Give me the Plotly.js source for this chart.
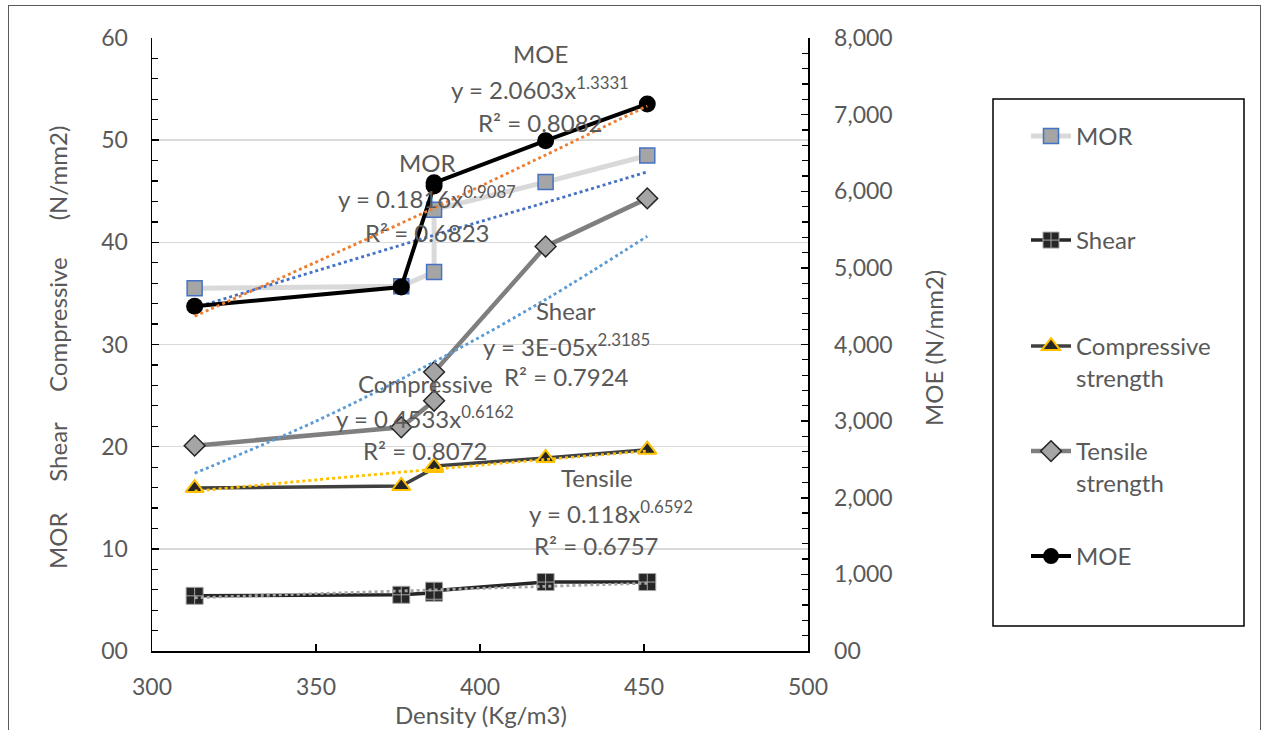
<!DOCTYPE html>
<html>
<head>
<meta charset="utf-8">
<script src="https://cdn.plot.ly/plotly-3.0.1.min.js"></script>
<style>
  html, body { margin: 0; padding: 0; background: #ffffff; overflow: hidden; }
  #chart { width: 1265px; height: 730px; position: absolute; left: 0; top: 0; }
  #frame { position: absolute; left: 8px; top: 5px; width: 1251px; height: 760px;
           border: 1.5px solid #595959; pointer-events: none; }
</style>
</head>
<body>
<div id="chart"></div>
<div id="frame"></div>
<script>
// ---- data ----
const density      = [313, 376, 386, 386, 420, 451];
const morValues    = [35.5, 35.7, 37.1, 43.2, 45.9, 48.5];
const shearValues  = [5.4, 5.5, 5.7, 5.9, 6.75, 6.75];
const compValues   = [15.95, 16.15, 17.9, 18.1, 18.9, 19.7];
const tensValues   = [20.1, 21.9, 24.5, 27.3, 39.6, 44.3];
const moeValues    = [4500, 4750, 6070, 6110, 6660, 7140];

// trendline curves (dotted)
const trendX        = [313, 350, 386, 420, 451];
const moeTrend      = [4370, 5075, 5781, 6473, 7114];
const morTrend      = [33.6, 37.2, 40.7, 43.9, 46.9];
const blueTrend     = [17.4, 22.5, 28.3, 34.4, 40.6];
const compTrend     = [15.64, 16.75, 17.79, 18.75, 19.58];
const grayTrend     = [5.21, 5.61, 5.98, 6.33, 6.63];

const leftTicks   = [0, 10, 20, 30, 40, 50, 60];
const leftLabels  = ['00', '10', '20', '30', '40', '50', '60'];
const rightTicks  = [0, 1000, 2000, 3000, 4000, 5000, 6000, 7000, 8000];
const rightLabels = ['00', '1,000', '2,000', '3,000', '4,000', '5,000', '6,000', '7,000', '8,000'];
const xTicks      = [300, 350, 400, 450, 500];

// ---- helpers for placing layout items in pixels ----
const PL = 152, PR = 808, PT = 38, PB = 651;
const px = v => (v - PL) / (PR - PL);
const py = v => (PB - v) / (PB - PT);

const FONT = 'Lato, "Open Sans", sans-serif';
const TXT = '#595959';

function trend(y, color, axis) {
  return {x: trendX, y: y, type: 'scatter', mode: 'lines', yaxis: axis || 'y',
          line: {color: color, width: 2.8, dash: 'dot', shape: 'spline'},
          showlegend: false, hoverinfo: 'skip'};
}

const traces = [
  {name: 'MOR', x: density, y: morValues, type: 'scatter', mode: 'lines+markers',
   line: {color: '#D9D9D9', width: 5},
   marker: {symbol: 'square', size: 15, color: '#A5A5A5', line: {color: '#4472C4', width: 1.5}},
   legend: 'legend'},
  {name: 'Shear', x: density, y: shearValues, type: 'scatter', mode: 'lines+markers',
   line: {color: '#262626', width: 3.5},
   marker: {symbol: 'square-cross', size: 17, color: '#262626', line: {color: '#A5A5A5', width: 1}},
   legend: 'legend2'},
  {name: 'Compressive<br>strength', x: density, y: compValues, type: 'scatter', mode: 'lines+markers',
   line: {color: '#404040', width: 3.5},
   marker: {symbol: 'triangle-up', size: 16, color: '#262626', line: {color: '#FFC000', width: 2}},
   legend: 'legend3'},
  {name: 'Tensile<br>strength', x: density, y: tensValues, type: 'scatter', mode: 'lines+markers',
   line: {color: '#7F7F7F', width: 4.5},
   marker: {symbol: 'diamond', size: 16, color: '#A5A5A5', line: {color: '#262626', width: 1.5}},
   legend: 'legend4'},
  trend(morTrend, '#4472C4'),
  trend(blueTrend, '#5B9BD5'),
  trend(compTrend, '#FFC000'),
  trend(grayTrend, '#A5A5A5'),
  {name: 'MOE', x: density, y: moeValues, type: 'scatter', mode: 'lines+markers', yaxis: 'y2',
   line: {color: '#000000', width: 4},
   marker: {symbol: 'circle', size: 17, color: '#000000'},
   legend: 'legend5'},
  trend(moeTrend, '#ED7D31', 'y2')
];

function ann(text, x, y, extra) {
  return Object.assign({text: text, x: px(x), y: py(y), xref: 'paper', yref: 'paper',
    showarrow: false, xanchor: 'center', yanchor: 'middle',
    font: {family: FONT, size: 24, color: TXT}}, extra || {});
}

const TF = {family: FONT, size: 24, color: TXT};
const GAP = '\u00a0\u00a0\u00a0\u00a0\u00a0';
const annotations = [
  ann('MOE', 540, 53),
  ann('y = 2.0603x<sup>1.3331</sup>', 540, 88),
  ann('R² = 0.8082', 540, 122),
  ann('MOR', 427, 162),
  ann('y = 0.1816x<sup>0.9087</sup>', 427, 197),
  ann('R² = 0.6823', 427, 232),
  ann('Shear', 566, 310),
  ann('y = 3E-05x<sup>2.3185</sup>', 566, 345),
  ann('R² = 0.7924', 566, 377),
  ann('Compressive', 425, 383),
  ann('y = 0.4533x<sup>0.6162</sup>', 425, 417),
  ann('R² = 0.8072', 425, 450),
  ann('Tensile', 597, 477),
  ann('y = 0.118x<sup>0.6592</sup>', 611, 512),
  ann('R² = 0.6757', 596, 545),
  // axis titles
  ann('MOR' + GAP + 'Shear' + GAP + 'Compressive' + GAP + '\u00a0(N/mm2)', 57, 348,
      {textangle: -90, font: TF}),
  ann('MOE (N/mm2)', 933, 348, {textangle: -90, font: TF}),
  ann('Density (Kg/m3)', 481, 714, {font: TF})
];

function leg(topPx) {
  return {x: px(1026), y: py(topPx), xref: 'paper', yref: 'paper', xanchor: 'left', yanchor: 'top',
          bgcolor: 'rgba(0,0,0,0)', borderwidth: 0, valign: 'top', itemwidth: 40,
          font: {family: FONT, size: 24, color: TXT}};
}

const layout = {
  width: 1265, height: 730,
  margin: {l: PL, r: 1265 - PR, t: PT, b: 730 - PB, pad: 0},
  paper_bgcolor: '#ffffff', plot_bgcolor: '#ffffff',
  font: {family: FONT, color: TXT},
  showlegend: true,
  legend: leg(114), legend2: leg(218), legend3: leg(324), legend4: leg(429), legend5: leg(534),
  xaxis: {range: [300, 500], tickvals: xTicks, ticks: 'inside', ticklen: 7, tickcolor: '#000',
          tickwidth: 1.5, showline: true, linecolor: '#000', linewidth: 1.5, showgrid: false,
          zeroline: false, tickfont: {family: FONT, size: 23, color: TXT}, ticklabelstandoff: 15,
          fixedrange: true},
  yaxis: {range: [0, 60], tickvals: leftTicks, ticktext: leftLabels, ticks: 'inside', ticklen: 7,
          tickcolor: '#000', tickwidth: 1.5, showline: true, linecolor: '#000', linewidth: 1.5,
          showgrid: true, gridcolor: '#D9D9D9', gridwidth: 1.5, zeroline: false,
          minor: {tick0: 0, dtick: 2, ticks: 'inside', ticklen: 6, tickcolor: '#000', tickwidth: 1.2, showgrid: false},
          tickfont: {family: FONT, size: 23, color: TXT}, ticklabelstandoff: 18, fixedrange: true},
  yaxis2: {range: [0, 8000], overlaying: 'y', side: 'right', tickvals: rightTicks, ticktext: rightLabels,
           ticks: 'inside', ticklen: 7, tickcolor: '#000', tickwidth: 1.5, showline: true,
           linecolor: '#000', linewidth: 1.5, showgrid: false, zeroline: false,
           minor: {tick0: 0, dtick: 200, ticks: 'inside', ticklen: 6, tickcolor: '#000', tickwidth: 1.2, showgrid: false},
           tickfont: {family: FONT, size: 23, color: TXT}, ticklabelstandoff: 20, fixedrange: true},
  shapes: [
    {type: 'rect', xref: 'paper', yref: 'paper', x0: px(993), x1: px(1244), y0: py(626), y1: py(99),
     line: {color: '#000000', width: 1.5}, fillcolor: 'rgba(0,0,0,0)', layer: 'above'}
  ],
  annotations: annotations
};

Plotly.newPlot('chart', traces, layout, {displayModeBar: false, staticPlot: true});
</script>
</body>
</html>
